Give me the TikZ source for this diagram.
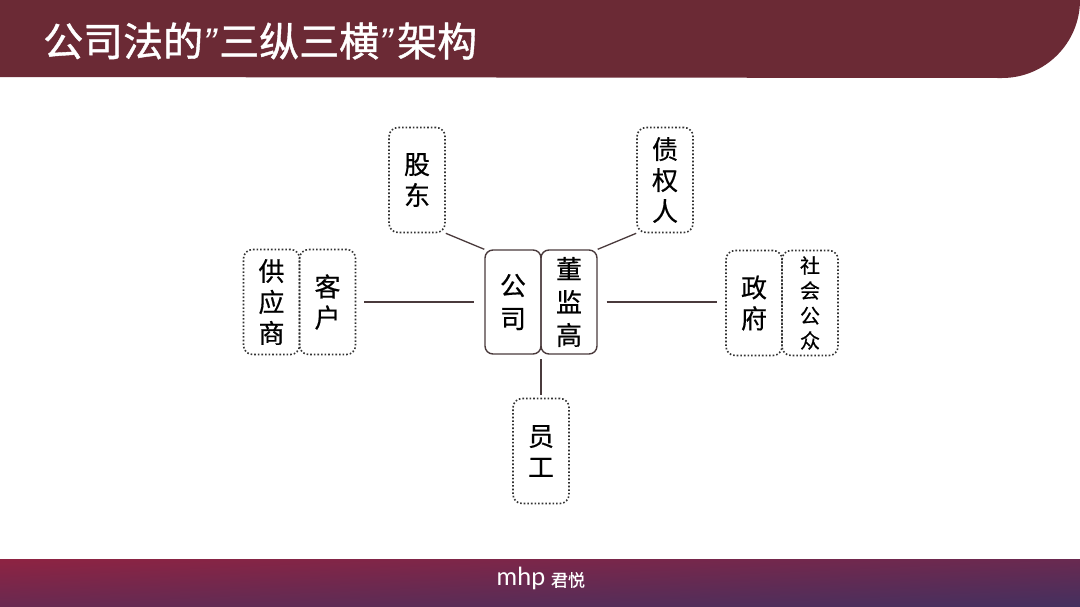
\documentclass[tikz,border=0pt]{standalone}
\usepackage{fontspec}
\setmainfont{Noto Sans CJK SC}[FakeBold=0.5]
\newfontfamily\titlefont{Noto Sans CJK SC}[FakeBold=1]
\newfontfamily\quotefont{Liberation Sans}[Ligatures=TeX,Style=Italic]
\newfontfamily\logofont{Lato}
\usetikzlibrary{positioning}
\definecolor{bandred}{HTML}{6B2A35}
\definecolor{footred}{HTML}{8E2342}
\definecolor{footviolet}{HTML}{44305F}
\definecolor{linegrey}{HTML}{4A3A3C}
\definecolor{dotgrey}{HTML}{333333}
\newcommand{\tq}[1]{\makebox[#1pt][l]{\quotefont\itshape\char"0022}}
\begin{document}
\begin{tikzpicture}[x=1pt,y=-1pt]
	\tikzstyle{solidbox}=[draw=linegrey,line width=1.4pt,rounded corners=8pt,minimum width=56pt,minimum height=104pt,inner sep=0pt,align=center,font=\fontsize{26}{33}\selectfont];
	\tikzstyle{dotbox}=[draw=dotgrey,line width=1.6pt,dotted,rounded corners=9pt,minimum width=56pt,minimum height=105pt,inner sep=0pt,align=center,font=\fontsize{26}{31}\selectfont];
	\tikzstyle{link}=[draw=linegrey,line width=1.3pt];
	\useasboundingbox (0,0) rectangle (1080,606);
	
	%Bands
	\fill[bandred] (0,0) -- (1080,0) arc[start angle=0,end angle=90,x radius=78pt,y radius=-78pt] -- (0,77) -- cycle;
	\begin{scope}
		\clip (0,559) rectangle (1080,606);
		\foreach \sx in {0,10,...,1070} {
			\pgfmathsetmacro{\ptop}{\sx/1080*50}
			\pgfmathsetmacro{\pbot}{\ptop+50}
			\shade[top color=footviolet!\ptop!footred,bottom color=footviolet!\pbot!footred] (\sx,559) rectangle (\sx+11,606);
		}
	\end{scope}
	\node[anchor=west,text=white,inner sep=0pt,font=\titlefont\fontsize{40}{40}\selectfont] (title) at (43,41) {公司法的\tq{16}三纵三横\tq{18}架构};
	\node[text=white,inner sep=0pt,font=\logofont\fontsize{25}{25}\selectfont] (logomhp) at (521,578) {mhp};
	\node[text=white,inner sep=0pt,font=\fontsize{17}{17}\selectfont] (logojy) at (568,580) {君悦};
	
	%Centre
	\node[solidbox] (gongsi) at (513,302) {公\\司};
	\node[solidbox] (dongjiangao) at (569,302) {董\\监\\高};
	
	%Top
	\node[dotbox] (gudong) at (417,180) {股\\东};
	\node[dotbox] (zhaiquanren) at (665,180) {债\\权\\人};
	
	%Left
	\node[dotbox] (gongying) at (271.5,302) {供\\应\\商};
	\node[dotbox] (kehu) at (327.5,302) {客\\户};
	
	%Right
	\node[dotbox] (zhengfu) at (754,303) {政\\府};
	\node[dotbox,font=\fontsize{20}{25}\selectfont] (shehui) at (810,303) {社\\会\\公\\众};
	
	%Bottom
	\node[dotbox] (yuangong) at (541,451) {员\\工};
	
	%Lines
	\draw[link] (gudong.south east) -- (gongsi.north west);
	\draw[link] (zhaiquanren.south west) -- (dongjiangao.north east);
	\draw[link,shorten <=8pt,shorten >=10pt] (kehu.east |- gongsi.west) -- (gongsi.west);
	\draw[link,shorten <=9pt,shorten >=8pt] (dongjiangao.east) -- (zhengfu.west |- dongjiangao.east);
	\draw[link,shorten <=3pt,shorten >=4pt] (yuangong.north) -- (yuangong.north |- gongsi.south);
\end{tikzpicture}
\end{document}
